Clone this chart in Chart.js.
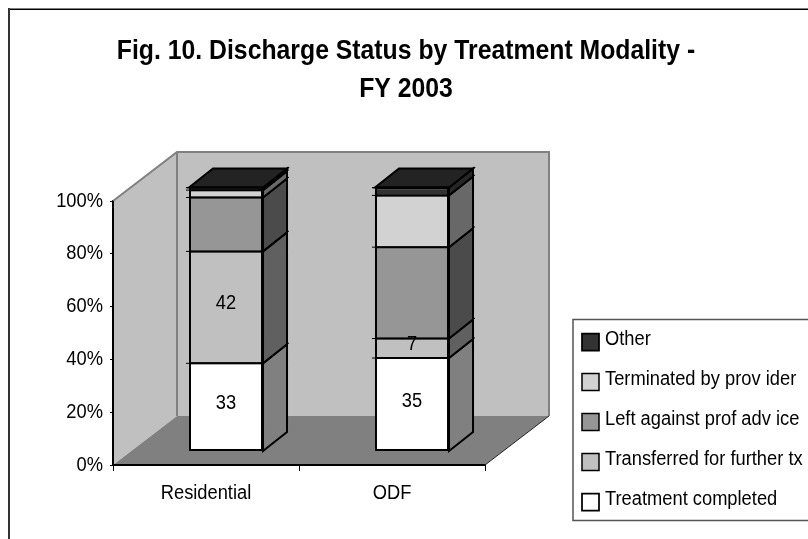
<!DOCTYPE html>
<html><head><meta charset="utf-8">
<style>html,body{margin:0;padding:0;background:#fff}canvas{display:block}</style>
<script src="https://cdn.jsdelivr.net/npm/chart.js@4"></script></head>
<body><canvas id="c" width="808" height="539"></canvas>
<script>
const categories = ['Residential', 'ODF'];
const treatmentCompleted = [33.4, 35.4];
const transferred = [42.4, 7.4];
const leftAgainstAdvice = [20.4, 34.6];
const terminated = [2.8, 19.6];
const other = [1.0, 3.0];
const seriesNames = ['Treatment completed', 'Transferred for further tx', 'Left against prof adv ice', 'Terminated by prov ider', 'Other'];
const tickLabels = ['0%', '20%', '40%', '60%', '80%', '100%'];
const labelled = [[true, true], [true, true], [false, false], [false, false], [false, false]];
const fronts = ['#ffffff', '#c0c0c0', '#969696', '#d2d2d2', '#333333'];
const sides = ['#808080', '#606060', '#4b4b4b', '#686868', '#262626'];

const FONT = '"Liberation Sans", Arial, sans-serif';
const WALL = {dx: 64, dy: -49}, BAR = {dx: 24, dy: -19}, SHIFT = {x: 20, y: -14};

function poly(ctx, pts, fill, stroke, lw) {
  ctx.beginPath();
  pts.forEach((p, i) => i ? ctx.lineTo(p[0], p[1]) : ctx.moveTo(p[0], p[1]));
  ctx.closePath();
  if (fill) { ctx.fillStyle = fill; ctx.fill(); }
  if (stroke) { ctx.strokeStyle = stroke; ctx.lineWidth = lw; ctx.stroke(); }
}

const scene = {
  id: 'scene',
  beforeInit(chart) {
    // the reference's type is condensed: draw every text horizontally narrowed
    const c = chart.ctx, raw = c.fillText.bind(c);
    c.fillText = function (t, x, y, m) {
      const bold = c.font.indexOf('bold') >= 0, sx = bold ? 0.885 : 0.915;
      const leg = c.textAlign === 'left';
      c.save();
      c.translate(leg ? x - 4 : x, leg ? y - 2.5 : y);
      c.scale(sx, 1);
      if (m === undefined) raw(t, 0, 0); else raw(t, 0, 0, m / sx);
      c.restore();
    };
  },
  beforeLayout(chart) {
    const lg = chart.legend;
    if (lg && !lg._wrapped) {
      const f = lg.fit;
      lg.fit = function () { f.call(this); this.width = 323; };
      lg._wrapped = true;
    }
  },
  afterLayout(chart) {
    const lg = chart.legend;
    lg.left = 562; lg.right = 808; lg.top = 312; lg.bottom = 620;
  },
  beforeDraw(chart) {
    const c = chart.ctx;
    c.save();
    c.strokeStyle = '#808080'; c.lineWidth = 1;
    c.beginPath(); c.moveTo(8, 8.5); c.lineTo(808, 8.5); c.stroke();
    c.strokeStyle = '#000';
    c.beginPath(); c.moveTo(8, 9.5); c.lineTo(808, 9.5); c.stroke();
    c.strokeStyle = '#333'; c.lineWidth = 2;
    c.beginPath(); c.moveTo(9, 8); c.lineTo(9, 539); c.stroke();
    c.strokeStyle = '#555'; c.lineWidth = 1.5;
    c.beginPath(); c.moveTo(810, 319.5); c.lineTo(573, 319.5); c.lineTo(573, 520.5); c.lineTo(810, 520.5); c.stroke();
    c.restore();
  },
  beforeDatasetsDraw(chart) {
    const c = chart.ctx, a = chart.chartArea;
    const L = a.left, R = a.right, T = a.top, B = a.bottom, dx = WALL.dx, dy = WALL.dy;
    c.save();
    poly(c, [[L, T], [L + dx, T + dy], [L + dx, B + dy], [L, B]], '#c0c0c0', null);
    poly(c, [[L + dx, T + dy], [R + dx, T + dy], [R + dx, B + dy], [L + dx, B + dy]], '#c0c0c0', null);
    poly(c, [[L, B], [L + dx, B + dy], [R + dx, B + dy], [R, B]], '#808080', null);
    c.strokeStyle = '#808080'; c.lineWidth = 2;
    c.beginPath();
    c.moveTo(L, T); c.lineTo(L + dx, T + dy); c.lineTo(R + dx, T + dy); c.lineTo(R + dx, B + dy);
    c.moveTo(L + dx, T + dy); c.lineTo(L + dx, B + dy);
    c.stroke();
    c.strokeStyle = '#222'; c.lineWidth = 1;
    c.beginPath(); c.moveTo(R, B); c.lineTo(R + dx, B + dy); c.stroke();
    c.strokeStyle = '#000'; c.lineWidth = 2;
    c.beginPath(); c.moveTo(L, T); c.lineTo(L, B); c.lineTo(R, B); c.stroke();
    c.restore();
    c.save();
    c.translate(SHIFT.x, SHIFT.y + 0.5);
    const n = chart.data.datasets.length;
    for (let i = 0; i < n; i++) {
      chart.getDatasetMeta(i).data.forEach(b => {
        const r = b.x + b.width / 2, top = b.y, bot = b.base;
        poly(c, [[r, top], [r + BAR.dx, top + BAR.dy], [r + BAR.dx, bot + BAR.dy], [r, bot]], sides[i], '#000', 2);
        if (i === n - 1) {
          const l = b.x - b.width / 2;
          poly(c, [[l, top], [l + BAR.dx, top + BAR.dy], [r + BAR.dx, top + BAR.dy], [r, top]], '#232323', '#000', 2);
        }
      });
    }
  },
  afterDatasetsDraw(chart) {
    const c = chart.ctx, n = chart.data.datasets.length;
    // segment boundary lines with small overhangs at the bar's edges
    c.strokeStyle = '#000';
    for (let i = 0; i < n; i++) {
      chart.getDatasetMeta(i).data.forEach(b => {
        const l = b.x - b.width / 2, r = b.x + b.width / 2, y = b.y;
        c.lineWidth = 2;
        c.beginPath(); c.moveTo(l, y); c.lineTo(r, y); c.stroke();
        c.lineWidth = 1;
        c.beginPath();
        c.moveTo(l - 3, y); c.lineTo(l, y);
        c.moveTo(r + BAR.dx - 2, y + BAR.dy + 1.5); c.lineTo(r + BAR.dx + 2, y + BAR.dy - 1.5);
        c.stroke();
      });
    }
    c.restore();
    c.save();
    c.translate(SHIFT.x, SHIFT.y);
    c.fillStyle = '#000'; c.font = '20px ' + FONT; c.textAlign = 'center'; c.textBaseline = 'middle';
    chart.data.datasets.forEach((ds, i) => {
      chart.getDatasetMeta(i).data.forEach((b, j) => {
        if (labelled[i][j]) c.fillText(Math.round(ds.data[j]), b.x, (b.y + b.base) / 2 - 3);
      });
    });
    c.restore();
  }
};

const seriesValues = [treatmentCompleted, transferred, leftAgainstAdvice, terminated, other];
new Chart(document.getElementById('c'), {
  type: 'bar',
  data: {
    labels: categories,
    datasets: seriesNames.map((name, i) => ({
      label: name, data: seriesValues[i], backgroundColor: fronts[i],
      borderColor: '#000', borderSkipped: false,
      borderWidth: {left: 2, right: 2, top: i === seriesNames.length - 1 ? 2 : 1, bottom: i === 0 ? 2 : 1},
      barPercentage: 0.398, categoryPercentage: 1, clip: false
    }))
  },
  options: {
    responsive: false, animation: false, devicePixelRatio: 1,
    layout: {padding: {left: 4, top: 0, right: 0, bottom: 0}},
    plugins: {
      title: {display: true, text: ['Fig. 10. Discharge Status by Treatment Modality -', 'FY 2003'],
        color: '#000', font: {family: FONT, size: 28, weight: 'bold', lineHeight: 38 / 28}, padding: {top: 32, bottom: 93}},
      legend: {display: true, position: 'right', align: 'start', reverse: true,
        labels: {color: '#000', font: {family: FONT, size: 20}, boxWidth: 17, boxHeight: 17, padding: 20}},
      tooltip: {enabled: false}
    },
    scales: {
      x: {stacked: true, border: {color: '#000', width: 2},
        grid: {drawOnChartArea: false, color: '#000', lineWidth: 1, tickLength: 6},
        ticks: {color: '#000', font: {family: FONT, size: 20}, maxRotation: 0, padding: 10},
        afterFit(s) { s.height = 74; }},
      y: {stacked: true, min: 0, max: 100, border: {color: '#000', width: 2},
        grid: {drawOnChartArea: false, color: '#000', lineWidth: 1, tickLength: 3},
        ticks: {stepSize: 20, color: '#000', font: {family: FONT, size: 20}, padding: 7,
          callback(v) { return tickLabels[v / 20]; }},
        afterFit(s) { s.width = 109; }}
    }
  },
  plugins: [scene]
});
</script></body></html>
